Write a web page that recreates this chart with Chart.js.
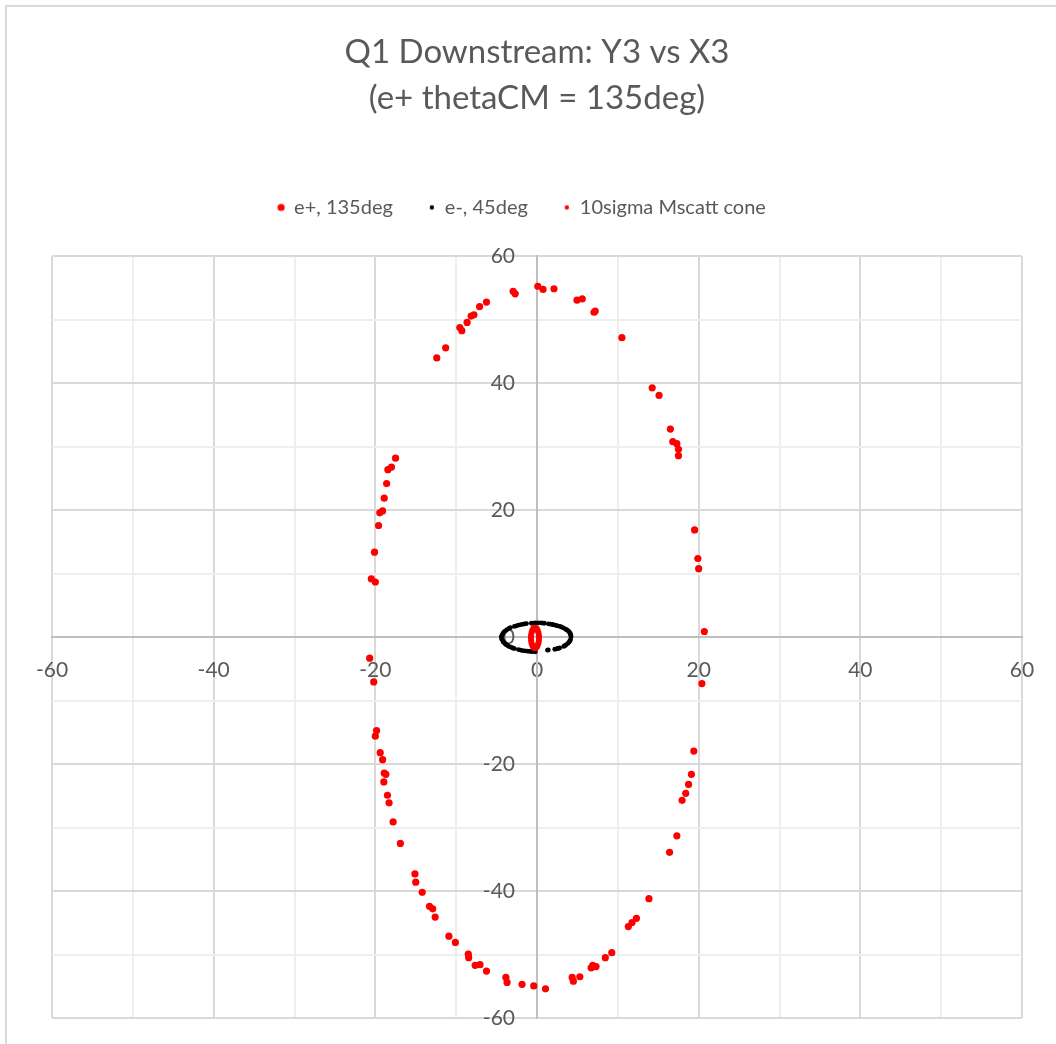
<!DOCTYPE html>
<html>
<head>
<meta charset="utf-8">
<script src="https://cdn.jsdelivr.net/npm/chart.js@4.4.1/dist/chart.umd.min.js"></script>
<style>
  html, body { margin: 0; padding: 0; background: #fff; overflow: hidden; }
  #wrap {
    position: absolute; left: 5px; top: 5px;
    width: 1060px; height: 1060px;
    border-left: 2px solid #d9d9d9; border-top: 2px solid #d9d9d9;
  }
</style>
</head>
<body>
<div id="wrap"><canvas id="scatterChart" width="1060" height="1060"></canvas></div>
<script>
// e+, 135deg
const ePlusX = [-12.4, -11.3, -9.55, -9.3, -8.65, -8.15, -7.8, -7.1, -6.25, -2.95, -2.7, 0.1, 0.75, 2.1,
  4.95, 5.6, 7.05, 7.2, 10.5, 14.25, 15.1, 16.5, 16.8, 17.3, 17.5, 17.5,
  -17.5, -18.0, -18.45, -18.6, -18.9, -19.1, -19.45, -19.6, -20.1, -20.5, -20.0,
  19.5, 19.9, 20.0, 20.7, 20.4, 19.4, 19.1, 18.75, 18.4, 17.95, 17.3, 16.4, 13.85, 12.3, 11.75, 11.3,
  9.25, 8.45, 7.3, 6.9, 6.7, 5.3, 4.5, 4.35, 1.05, -0.4, -1.85, -3.7, -3.85, -6.25, -7.05, -7.65,
  -8.45, -8.5, -10.1, -10.9, -12.6, -12.9, -13.3, -14.2, -15.0, -15.1, -16.9, -17.8, -18.3, -18.5,
  -18.95, -18.7, -18.9, -19.1, -19.4, -20.0, -19.85, -20.2, -20.7];
const ePlusY = [44.0, 45.6, 48.8, 48.3, 49.6, 50.6, 50.8, 52.1, 52.8, 54.5, 54.1, 55.3, 54.8, 54.9,
  53.1, 53.3, 51.2, 51.4, 47.2, 39.3, 38.1, 32.8, 30.8, 30.5, 29.6, 28.6,
  28.2, 26.8, 26.4, 24.2, 21.9, 19.9, 19.6, 17.6, 13.4, 9.2, 8.7,
  16.9, 12.4, 10.8, 0.9, -7.3, -17.95, -21.6, -23.2, -24.6, -25.7, -31.3, -33.9, -41.2, -44.3, -44.95, -45.6,
  -49.7, -50.5, -51.9, -51.7, -52.1, -53.5, -54.2, -53.6, -55.4, -54.95, -54.7, -54.4, -53.6, -52.6, -51.6, -51.7,
  -50.5, -49.95, -48.1, -47.1, -44.1, -42.8, -42.4, -40.2, -38.6, -37.3, -32.5, -29.1, -26.1, -24.9,
  -22.8, -21.6, -21.4, -19.3, -18.2, -15.6, -14.7, -7.05, -3.3];

// e-, 45deg (dashed look comes from the gaps between dots)
const eMinusX = [4.2, 4.2, 4.15, 4.1, 4.0, 3.9, 3.75, 3.6, 3.5, 3.2, 2.95, 2.7, 2.5, 2.35, 2.1,
  1.9, 1.65, 1.4, 0.9, 0.7, 0.5, 0.15, -0.2, -0.45, -0.7, -1.3, -1.5, -1.7, -2.0,
  -2.3, -2.55, -2.8, -3.3, -3.5, -3.7, -3.85, -4.0, -4.15, -4.25, -4.35, -4.4, -4.4,
  -4.35, -4.2, -4.1, -3.95, -3.8, -3.6, -3.4, -3.2, -3.0, -2.8, -2.3, -2.05, -1.8,
  -1.5, -1.2, -0.95, -0.7, -0.45, -0.2, 1.3, 1.4, 2.2, 2.4, 2.6, 2.8, 3.3, 3.45, 3.6,
  3.8, 3.95, 4.05, 4.15];
const eMinusY = [0.05, 0.25, 0.45, 0.6, 0.8, 0.95, 1.1, 1.2, 1.3, 1.5, 1.65, 1.75, 1.8, 1.85, 1.95,
  2.0, 2.05, 2.1, 2.2, 2.22, 2.25, 2.26, 2.25, 2.23, 2.2, 2.15, 2.1, 2.05, 1.98,
  1.9, 1.8, 1.7, 1.5, 1.35, 1.2, 1.05, 0.9, 0.7, 0.5, 0.3, 0.1, -0.1,
  -0.35, -0.7, -0.85, -1.05, -1.2, -1.35, -1.5, -1.6, -1.7, -1.8, -1.95, -2.03, -2.1,
  -2.15, -2.2, -2.22, -2.25, -2.27, -2.3, -2.05, -2.0, -1.9, -1.85, -1.78, -1.7, -1.45, -1.35, -1.2,
  -1.0, -0.8, -0.6, -0.4];

// 10sigma Mscatt cone
const coneX = [0.25, 0.23, 0.18, 0.1, 0.0, -0.12, -0.25, -0.38, -0.5, -0.6, -0.68, -0.73,
  -0.75, -0.73, -0.68, -0.6, -0.5, -0.38, -0.25, -0.12, 0.0, 0.1, 0.18, 0.23];
const coneY = [-0.1, 0.31, 0.7, 1.03, 1.29, 1.45, 1.5, 1.45, 1.29, 1.03, 0.7, 0.31,
  -0.1, -0.51, -0.9, -1.23, -1.49, -1.65, -1.7, -1.65, -1.49, -1.23, -0.9, -0.51];

const seriesNames = ["e+, 135deg", "e-, 45deg", "10sigma Mscatt cone"];

const toPoints = (xs, ys) => xs.map((x, i) => ({ x: x, y: ys[i] }));

// small canvases so every legend marker keeps its own size
function dotIcon(color, r) {
  const c = document.createElement("canvas");
  c.width = 12;
  c.height = 12;
  const g = c.getContext("2d");
  g.fillStyle = color;
  g.beginPath();
  g.arc(6, 6, r, 0, Math.PI * 2);
  g.fill();
  return c;
}
const legendIcons = [dotIcon("#ff0000", 3.6), dotIcon("#000000", 2.2), dotIcon("#ff0000", 2.2)];

const gridColor = (ctx) => {
  const v = ctx.tick.value;
  if (v === 0) return "#bfbfbf";
  return v % 20 === 0 ? "#d9d9d9" : "#eeeeee";
};
const tickLabel = (v) => (v % 20 === 0 ? v : "");

// extra room under the legend, and nudge it a bit to the left like Excel does
const legendTweak = {
  id: "legendTweak",
  beforeInit(chart) {
    const origFit = chart.legend.fit;
    chart.legend.fit = function fit() {
      origFit.bind(chart.legend)();
      this.height += 29;
    };
  },
  afterLayout(chart) {
    chart.legend.right -= 30;
  },
};

Chart.defaults.font.family = "Lato, 'Open Sans', sans-serif";
Chart.defaults.color = "#595959";

const ctx = document.getElementById("scatterChart").getContext("2d");
const chart = new Chart(ctx, {
  type: "scatter",
  data: {
    datasets: [
      {
        label: seriesNames[0],
        data: toPoints(ePlusX, ePlusY),
        pointRadius: 3.6,
        pointBorderWidth: 0,
        backgroundColor: "#ff0000",
        borderColor: "#ff0000",
        order: 2,
      },
      {
        label: seriesNames[1],
        data: toPoints(eMinusX, eMinusY),
        pointRadius: 2.4,
        pointBorderWidth: 0,
        backgroundColor: "#000000",
        borderColor: "#000000",
        order: 1,
      },
      {
        label: seriesNames[2],
        data: toPoints(coneX, coneY),
        pointRadius: 3,
        pointBorderWidth: 0,
        backgroundColor: "#ff0000",
        borderColor: "#ff0000",
        order: 0,
      },
    ],
  },
  options: {
    responsive: false,
    animation: false,
    layout: { padding: { left: 45, right: 45, top: 0, bottom: 49 } },
    plugins: {
      title: {
        display: true,
        text: ["Q1 Downstream: Y3 vs X3", "(e+ thetaCM = 135deg)"],
        color: "#595959",
        font: { size: 33, weight: "normal", lineHeight: 1.4 },
        padding: { top: 22, bottom: 40 },
      },
      legend: {
        display: true,
        position: "top",
        labels: {
          usePointStyle: true,
          boxWidth: 6,
          padding: 36,
          color: "#595959",
          font: { size: 20 },
          sort: (a, b) => a.datasetIndex - b.datasetIndex,
          generateLabels: (chart) => {
            const items = Chart.defaults.plugins.legend.labels.generateLabels(chart);
            items.forEach((item) => {
              item.pointStyle = legendIcons[item.datasetIndex];
            });
            return items;
          },
        },
      },
      tooltip: { enabled: false },
    },
    scales: {
      x: {
        type: "linear",
        min: -60,
        max: 60,
        position: { y: 0 },
        grid: { color: gridColor, lineWidth: 2, drawTicks: false },
        border: { color: "#bfbfbf", width: 2 },
        ticks: {
          stepSize: 10,
          autoSkip: false,
          maxRotation: 0,
          padding: 20,
          font: { size: 21 },
          callback: tickLabel,
        },
      },
      y: {
        type: "linear",
        min: -60,
        max: 60,
        position: "center",
        grid: { color: gridColor, lineWidth: 2, drawTicks: false },
        border: { color: "#bfbfbf", width: 2 },
        ticks: {
          stepSize: 10,
          autoSkip: false,
          padding: 22,
          font: { size: 21 },
          callback: tickLabel,
        },
      },
    },
  },
  plugins: [legendTweak],
});
</script>
</body>
</html>
